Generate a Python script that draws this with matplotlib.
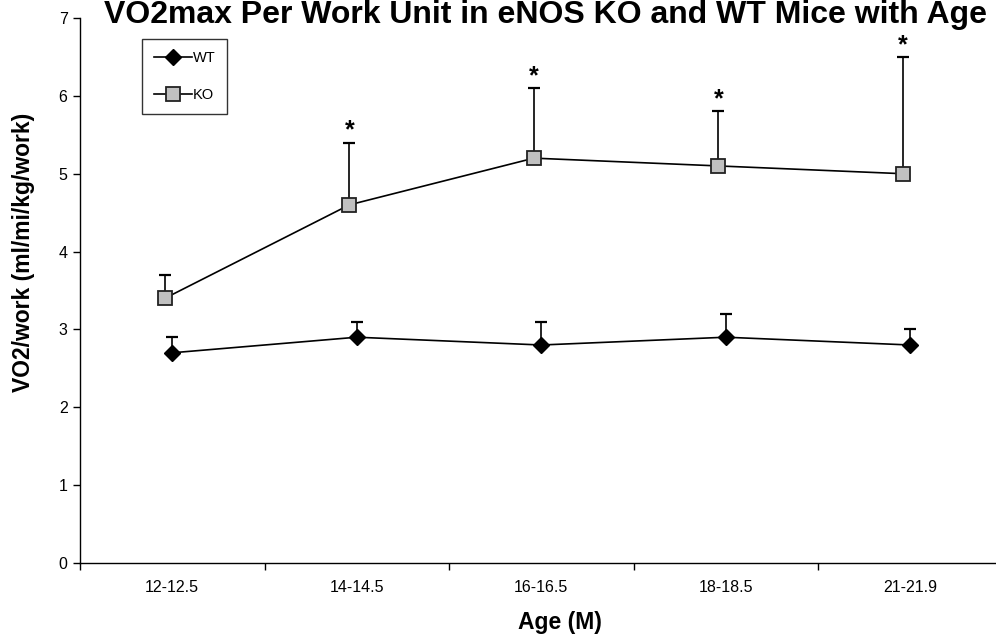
import numpy as np
import matplotlib
matplotlib.use("Agg")
import matplotlib.pyplot as plt

plt.rcParams['font.family'] = ['Liberation Sans', 'DejaVu Sans']

# age groups (months)
ages = ['12-12.5', '14-14.5', '16-16.5', '18-18.5', '21-21.9']

# mean VO2/work and top of the error bar for each group
wt_mean = [2.7, 2.9, 2.8, 2.9, 2.8]
wt_upper = [2.9, 3.1, 3.1, 3.2, 3.0]
ko_mean = [3.4, 4.6, 5.2, 5.1, 5.0]
ko_upper = [3.7, 5.4, 6.1, 5.8, 6.5]

# groups where KO differs from WT
ko_signif = [False, True, True, True, True]

fig = plt.figure(figsize=(9.96, 6.38), dpi=100)
ax = fig.add_axes([80 / 996, 75 / 638, 922.5 / 996, 545 / 638])

x = np.arange(len(ages))
x_ko = x - 0.04

# error bars (upper only), drawn under the markers
ax.vlines(x, wt_mean, wt_upper, color='black', lw=1.2, zorder=2)
ax.plot(x, wt_upper, ls='none', marker='_', ms=9, mew=1.6, color='black', zorder=2)
ax.vlines(x_ko, ko_mean, ko_upper, color='black', lw=1.2, zorder=2)
ax.plot(x_ko, ko_upper, ls='none', marker='_', ms=9, mew=1.6, color='black', zorder=2)

ax.plot(x, wt_mean, color='black', lw=1.2, marker='D', ms=8.5,
        mfc='black', mec='black', label='WT', zorder=3)
ax.plot(x_ko, ko_mean, color='black', lw=1.2, marker='s', ms=10,
        mfc='#c0c0c0', mec='#222222', mew=1.3, label='KO', zorder=3)

for xi, top, sig in zip(x_ko, ko_upper, ko_signif):
    if sig:
        ax.annotate('*', (xi, top), xytext=(0, 0), textcoords='offset points',
                    ha='center', va='bottom', fontsize=18, fontweight='bold')

ax.set_xlim(-0.5, len(ages) - 0.5)
ax.set_ylim(0, 7)
ax.set_yticks(range(0, 8))
ax.set_xticks(x)
ax.set_xticklabels(ages)
ax.set_xticks(np.arange(-0.5, len(ages)), minor=True)
ax.tick_params(axis='x', which='major', length=0, pad=12, labelsize=11.5)
ax.tick_params(axis='x', which='minor', length=5, width=1, direction='out')
ax.tick_params(axis='y', length=5, width=1, direction='out', pad=4, labelsize=11.5)

for side in ['top', 'right']:
    ax.spines[side].set_visible(False)
for side in ['left', 'bottom']:
    ax.spines[side].set_linewidth(1.0)

leg = ax.legend(loc='upper left', bbox_to_anchor=(62 / 922.5, 1 - 21 / 545),
                frameon=True, fancybox=False, fontsize=10.5,
                handlelength=2.6, handletextpad=0.1, borderpad=0.8,
                labelspacing=1.6, borderaxespad=0)
leg.get_frame().set_edgecolor('black')
leg.get_frame().set_linewidth(1.0)

fig.text(545 / 996, 1 - 23 / 638, 'VO2max Per Work Unit in eNOS KO and WT Mice with Age',
         ha='center', va='baseline', fontsize=23, fontweight='bold')
fig.text(24 / 996, 1 - 252 / 638, 'VO2/work (ml/mi/kg/work)', rotation=90,
         ha='center', va='center', fontsize=16.5, fontweight='bold')
fig.text(560 / 996, 1 - 622 / 638, 'Age (M)', ha='center', va='center',
         fontsize=16.5, fontweight='bold')

fig.savefig('out.png', dpi=100)
